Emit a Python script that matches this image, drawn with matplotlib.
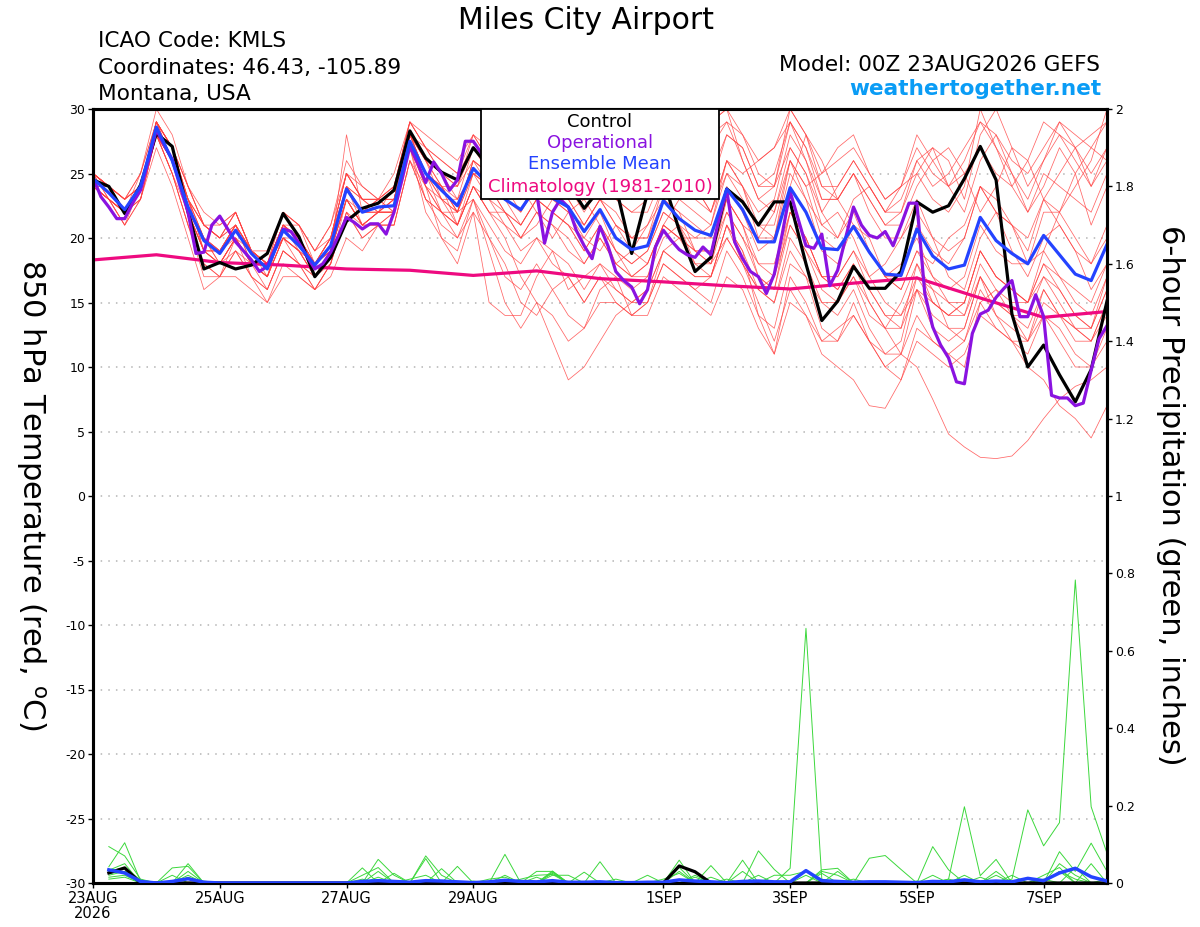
import numpy as np
import matplotlib
matplotlib.use("Agg")
import matplotlib.pyplot as plt
from matplotlib.patches import Rectangle

plt.rcParams['font.family'] = ['DejaVu Sans']
plt.rcParams['axes.unicode_minus'] = False

# --- header text ---
station = "Miles City Airport"
info_lines = ["ICAO Code: KMLS", "Coordinates: 46.43, -105.89", "Montana, USA"]
model_run = "Model: 00Z 23AUG2026 GEFS"
site_name = "weathertogether.net"
legend_items = ["Control", "Operational", "Ensemble Mean", "Climatology (1981-2010)"]

# --- time axis (hours after 00Z 23AUG2026) ---
tick_hours = [0, 48, 96, 144, 216, 264, 312, 360]
tick_labels = ["23AUG\n2026", "25AUG", "27AUG", "29AUG", "1SEP", "3SEP", "5SEP", "7SEP"]
temp_hours = np.arange(0, 385, 6)      # ensemble, 6-hourly
op_hours = np.arange(0, 385, 3)        # operational, 3-hourly
clim_hours = np.arange(0, 385, 24)     # climatology, daily
precip_hours = np.arange(6, 385, 6)    # 6-h accumulations

# --- 850 hPa temperature (C) ---
control_t = [24.5, 24.0, 21.9, 24.1, 28.1, 27.1, 22.0, 17.6, 18.1, 17.6, 17.9, 18.8, 21.9,
             20.1, 17.0, 18.5, 21.3, 22.3, 22.7, 23.7, 28.3, 26.2, 25.1, 24.5, 27.0, 25.5,
             24.8, 24.5, 25.0, 24.0, 24.2, 22.3, 23.8, 24.0, 18.8, 23.5, 24.5, 20.6, 17.4,
             18.5, 23.8, 22.8, 21.0, 22.8, 22.8, 18.0, 13.6, 15.1, 17.8, 16.1, 16.1, 17.4,
             22.8, 22.0, 22.5, 24.6, 27.1, 24.5, 14.1, 10.0, 11.7, 9.4, 7.3, 9.8, 15.1]

mean_t = [24.6, 23.5, 22.2, 24.0, 28.6, 26.0, 22.4, 19.8, 18.8, 20.6, 18.8, 17.6, 20.6,
          19.4, 17.9, 19.4, 23.8, 22.0, 22.4, 22.5, 27.5, 25.0, 23.7, 22.5, 25.4, 24.1,
          23.0, 22.2, 24.0, 23.1, 22.4, 20.5, 22.2, 20.0, 19.1, 19.4, 22.9, 21.5, 20.6,
          20.2, 23.8, 22.2, 19.7, 19.7, 23.9, 22.0, 19.2, 19.1, 20.9, 18.9, 17.2, 17.1,
          20.7, 18.6, 17.6, 17.9, 21.6, 19.8, 18.8, 18.0, 20.2, 18.7, 17.2, 16.7, 19.5]

oper_t = [24.7, 23.2, 22.4, 21.5, 21.5, 22.7, 23.7, 26.0,
          28.4, 27.2, 26.1, 24.0, 22.0, 18.8, 18.9, 21.0,
          21.7, 20.7, 19.7, 19.0, 18.3, 17.4, 17.8, 19.2,
          20.7, 20.5, 19.6, 18.6, 17.6, 18.0, 18.9, 20.2,
          21.6, 21.2, 20.7, 21.1, 21.1, 20.3, 22.0, 24.5,
          27.1, 25.8, 24.3, 25.9, 25.0, 23.7, 24.5, 27.5,
          27.5, 26.6, 25.5, 25.0, 24.5, 24.0, 24.5, 24.0,
          23.5, 19.6, 22.0, 23.0, 22.4, 20.6, 19.4, 18.4,
          20.9, 19.4, 17.4, 16.7, 16.2, 14.9, 16.0, 19.3,
          20.6, 19.8, 19.1, 18.7, 18.5, 19.3, 18.7, 21.4,
          23.7, 19.7, 18.4, 17.4, 17.0, 15.7, 17.2, 20.3,
          23.6, 21.5, 19.4, 19.2, 20.3, 16.3, 17.5, 20.0,
          22.4, 21.0, 20.2, 20.0, 20.5, 19.4, 21.0, 22.7,
          22.7, 15.7, 13.1, 11.7, 10.7, 8.85, 8.7, 12.6,
          14.1, 14.4, 15.4, 16.1, 16.7, 13.9, 13.9, 15.6,
          13.9, 7.8, 7.6, 7.6, 7.0, 7.2, 9.75, 12.2,
          13.2]

clim_t = [18.3, 18.7, 18.1, 17.9, 17.6, 17.5, 17.1, 17.45, 16.85,
          16.6, 16.3, 16.05, 16.5, 16.9, 15.35, 13.85, 14.3]

ens_members = [
    [25, 24, 22, 24, 29, 27, 23, 20, 19, 21, 19, 18, 21, 20, 18, 19, 24, 22, 23, 23, 28, 26, 24, 22, 26, 25,
     24, 22, 25, 24, 23, 21, 23, 22, 20, 20, 24, 26, 28, 29, 30, 26, 23, 24, 27, 25, 22, 24, 26, 24, 22, 23,
     26, 24, 25, 27, 29, 27, 25, 23, 26, 28, 27, 25, 27],
    [24, 23, 21, 23, 28, 25, 21, 18, 17, 19, 17, 16, 19, 18, 16, 18, 22, 20, 21, 21, 26, 23, 21, 20, 23, 20,
     18, 15, 14, 16, 17, 15, 17, 16, 15, 15, 18, 17, 16, 15, 19, 17, 14, 13, 18, 17, 13, 12, 15, 12, 10, 11,
     14, 12, 11, 10, 15, 13, 12, 11, 14, 12, 10, 10, 13],
    [25, 24, 23, 24, 29, 27, 24, 21, 20, 22, 19, 18, 22, 21, 19, 21, 26, 24, 23, 24, 29, 27, 26, 25, 28, 27,
     26, 25, 27, 26, 25, 24, 26, 24, 23, 24, 27, 26, 25, 25, 28, 27, 24, 25, 29, 27, 24, 24, 26, 24, 22, 22,
     26, 27, 24, 22, 26, 28, 25, 22, 24, 27, 25, 21, 24],
    [24, 23, 22, 24, 28, 26, 22, 19, 18, 20, 18, 17, 20, 19, 17, 19, 23, 21, 22, 22, 27, 24, 20, 19, 23, 19,
     15, 13, 15, 14, 12, 13, 16, 17, 14, 15, 19, 20, 18, 18, 22, 20, 17, 16, 21, 19, 17, 17, 19, 16, 14, 13,
     18, 15, 14, 15, 19, 17, 16, 15, 18, 16, 14, 13, 17],
    [25, 24, 22, 25, 29, 26, 23, 20, 19, 21, 19, 18, 21, 20, 18, 20, 24, 23, 22, 23, 28, 25, 23, 21, 24, 22,
     20, 17, 15, 12, 9, 10, 12, 14, 15, 16, 19, 18, 17, 17, 21, 19, 16, 15, 20, 18, 15, 14, 16, 13, 11, 11,
     16, 13, 12, 13, 17, 15, 14, 13, 16, 14, 12, 12, 15],
    [24, 23, 22, 24, 28, 25, 21, 17, 17, 19, 17, 15, 18, 17, 16, 18, 22, 21, 21, 22, 27, 24, 22, 21, 24, 22,
     21, 20, 22, 21, 20, 18, 20, 18, 17, 18, 21, 20, 19, 19, 22, 20, 18, 18, 22, 20, 17, 16, 18, 15, 13, 11,
     10, 7.5, 4.8, 3.8, 3.0, 2.9, 3.1, 4.3, 6, 7.5, 8.5, 9, 10],
    [25, 24, 23, 25, 30, 28, 24, 21, 21, 22, 19, 19, 22, 21, 19, 21, 25, 23, 23, 24, 29, 28, 27, 26, 28, 26,
     25, 24, 26, 25, 24, 22, 24, 26, 27, 25, 28, 27, 26, 28, 29, 26, 23, 22, 27, 25, 21, 20, 22, 19, 17, 16,
     19, 17, 15, 14, 17, 14, 12, 10, 9, 7, 6, 4.5, 7],
    [24, 23, 21, 23, 27, 24, 20, 16, 17, 17, 16, 15, 17, 17, 16, 17, 20, 19, 21, 21, 26, 23, 22, 20, 22, 20,
     17, 16, 18, 16, 14, 13, 15, 15, 14, 14, 17, 16, 15, 14, 17, 16, 13, 11, 15, 14, 12, 13, 14, 12, 10, 9,
     12, 11, 10, 11, 14, 13, 12, 12, 15, 14, 13, 12, 15],
    [25, 24, 22, 24, 28, 26, 22, 20, 19, 21, 18, 18, 20, 19, 18, 19, 24, 22, 22, 23, 28, 25, 24, 23, 25, 24,
     22, 21, 23, 22, 21, 19, 21, 19, 18, 19, 22, 21, 19, 18, 20, 18, 15, 12, 16, 14, 11, 10, 9, 7, 6.8, 9,
     13, 12, 11, 12, 16, 14, 13, 12, 16, 14, 13, 12, 14],
    [25, 24, 23, 24, 29, 27, 23, 21, 20, 21, 19, 18, 21, 20, 18, 20, 25, 23, 23, 23, 28, 26, 24, 24, 27, 25,
     24, 23, 25, 25, 24, 23, 25, 23, 22, 22, 25, 24, 23, 22, 26, 25, 26, 27, 29, 26, 22, 20, 23, 24, 22, 24,
     25, 23, 22, 24, 30, 27, 24, 22, 25, 24, 23, 22, 25],
    [24, 23, 22, 23, 28, 26, 23, 19, 19, 20, 18, 17, 20, 19, 17, 19, 28, 22, 22, 22, 27, 25, 22, 21, 24, 22,
     22, 20, 22, 21, 19, 18, 20, 18, 17, 17, 21, 20, 19, 18, 23, 21, 17, 16, 22, 20, 17, 17, 19, 17, 15, 14,
     17, 16, 15, 15, 19, 17, 16, 15, 17, 15, 13, 13, 16],
    [25, 24, 22, 24, 29, 27, 23, 21, 20, 21, 19, 18, 21, 20, 18, 20, 24, 23, 23, 23, 28, 26, 25, 24, 26, 25,
     25, 24, 27, 26, 26, 24, 26, 25, 25, 26, 28, 28, 27, 29, 30, 28, 25, 24, 30, 28, 24, 23, 25, 22, 20, 20,
     22, 20, 19, 20, 24, 22, 21, 20, 23, 21, 19, 18, 20],
    [24, 23, 21, 24, 28, 25, 22, 19, 18, 20, 18, 17, 20, 18, 17, 19, 23, 21, 22, 22, 27, 22, 20, 18, 22, 15,
     14, 14, 17, 19, 18, 16, 18, 16, 15, 16, 19, 18, 17, 17, 20, 18, 16, 15, 19, 17, 15, 15, 17, 15, 13, 13,
     16, 15, 14, 14, 18, 16, 15, 15, 18, 17, 15, 14, 17],
    [25, 23, 22, 24, 29, 27, 24, 22, 21, 22, 19, 18, 22, 21, 19, 20, 25, 24, 23, 25, 29, 27, 25, 24, 28, 26,
     25, 23, 24, 23, 22, 21, 23, 21, 20, 21, 24, 23, 22, 21, 25, 23, 21, 21, 26, 24, 25, 27, 28, 25, 23, 24,
     28, 26, 24, 25, 27, 25, 24, 26, 29, 28, 26, 24, 26],
    [24, 23, 22, 23, 28, 25, 21, 18, 17, 20, 17, 16, 19, 18, 17, 18, 22, 20, 21, 21, 26, 24, 23, 22, 25, 23,
     21, 19, 20, 18, 17, 15, 17, 15, 14, 15, 18, 17, 16, 17, 21, 19, 14, 11, 17, 15, 12, 12, 14, 12, 11, 12,
     17, 15, 14, 15, 19, 17, 16, 15, 19, 17, 16, 15, 18],
    [25, 24, 23, 24, 29, 26, 22, 20, 19, 21, 19, 17, 21, 20, 18, 19, 23, 22, 23, 22, 28, 25, 24, 22, 25, 24,
     23, 22, 24, 24, 23, 21, 23, 21, 20, 20, 23, 22, 21, 20, 24, 22, 19, 20, 24, 28, 26, 23, 21, 19, 17, 18,
     20, 17, 16, 17, 21, 19, 18, 18, 22, 22, 24, 26, 30],
    [24, 24, 22, 24, 28, 26, 23, 20, 18, 20, 18, 17, 20, 19, 18, 19, 23, 21, 22, 22, 27, 25, 23, 23, 25, 24,
     23, 21, 23, 22, 21, 19, 21, 19, 18, 19, 22, 21, 20, 21, 26, 24, 20, 20, 26, 24, 20, 19, 21, 19, 17, 17,
     21, 19, 18, 20, 24, 23, 21, 19, 23, 25, 27, 28, 29],
    [25, 24, 22, 24, 28, 26, 22, 19, 19, 21, 19, 18, 21, 20, 18, 19, 24, 22, 22, 23, 28, 25, 24, 22, 26, 25,
     24, 23, 26, 25, 24, 23, 25, 23, 22, 23, 26, 25, 24, 22, 26, 24, 22, 23, 28, 26, 23, 23, 25, 23, 21, 22,
     25, 27, 26, 23, 28, 30, 27, 24, 26, 29, 27, 24, 27],
    [24, 23, 22, 24, 28, 26, 22, 19, 18, 20, 18, 17, 20, 19, 17, 19, 23, 21, 22, 22, 27, 24, 22, 21, 24, 23,
     22, 21, 23, 22, 21, 20, 22, 19, 17, 18, 21, 20, 20, 20, 23, 21, 18, 17, 22, 20, 17, 16, 18, 16, 14, 14,
     16, 14, 13, 13, 17, 15, 14, 14, 17, 16, 14, 13, 16],
    [25, 24, 23, 25, 29, 27, 24, 21, 20, 22, 19, 18, 21, 20, 18, 20, 25, 23, 23, 24, 29, 27, 26, 25, 27, 26,
     25, 24, 26, 26, 25, 24, 26, 24, 23, 24, 27, 26, 24, 24, 28, 27, 24, 24, 29, 27, 23, 23, 25, 23, 21, 21,
     24, 26, 27, 25, 22, 24, 27, 26, 23, 22, 25, 27, 26],
    [24, 24, 22, 24, 29, 27, 23, 19, 19, 21, 18, 17, 21, 19, 17, 19, 24, 21, 22, 23, 28, 26, 23, 22, 26, 24,
     22, 20, 21, 23, 22, 20, 19, 21, 19, 18, 21, 23, 24, 22, 25, 24, 21, 20, 25, 23, 19, 18, 21, 20, 17, 16,
     19, 18, 20, 21, 24, 22, 19, 17, 20, 21, 19, 16, 18],
    [25, 23, 22, 24, 28, 26, 22, 20, 18, 20, 19, 18, 20, 20, 17, 19, 24, 22, 23, 22, 27, 25, 24, 21, 25, 25,
     23, 24, 22, 20, 22, 23, 21, 18, 19, 21, 23, 22, 19, 19, 23, 21, 20, 22, 26, 23, 21, 22, 20, 17, 18, 20,
     23, 20, 17, 16, 20, 22, 21, 18, 19, 22, 20, 18, 21],
    [24, 23, 22, 23, 28, 26, 22, 19, 18, 19, 18, 16, 19, 18, 16, 18, 23, 21, 21, 22, 27, 23, 22, 22, 23, 21,
     19, 18, 20, 19, 16, 17, 18, 17, 16, 17, 20, 21, 18, 17, 21, 18, 16, 17, 21, 19, 16, 15, 17, 14, 13, 15,
     18, 16, 13, 12, 15, 16, 14, 12, 14, 13, 11, 10, 12],
    [25, 24, 23, 24, 29, 26, 23, 21, 20, 22, 19, 18, 21, 21, 18, 20, 25, 23, 22, 24, 28, 27, 25, 23, 27, 26,
     26, 25, 24, 26, 27, 25, 24, 25, 24, 25, 28, 27, 26, 27, 29, 28, 26, 27, 30, 28, 25, 26, 27, 25, 23, 24,
     27, 25, 24, 26, 29, 28, 26, 25, 27, 29, 28, 27, 29],
]

# --- 6-hour precipitation (inches) ---
mean_p = [0.034, 0.026, 0.004, 0, 0.004, 0.011, 0.002, 0,
          0, 0, 0, 0, 0, 0, 0, 0,
          0.004, 0.006, 0.004, 0.002, 0.006, 0.005, 0.003, 0.001,
          0.003, 0.007, 0.004, 0.003, 0.006, 0.002, 0.002, 0.003,
          0.001, 0.001, 0.002, 0.002, 0.008, 0.005, 0.003, 0.001,
          0.004, 0.005, 0.003, 0.003, 0.032, 0.006, 0.004, 0.002,
          0.003, 0.003, 0.002, 0.001, 0.004, 0.003, 0.008, 0.003,
          0.005, 0.003, 0.012, 0.006, 0.026, 0.038, 0.016, 0.005]

control_p = {6: 0.026, 12: 0.039, 222: 0.044, 228: 0.029}

precip_members = [
    {6: 0.094, 12: 0.07, 18: 0.01, 36: 0.05, 108: 0.061, 114: 0.02, 156: 0.074, 174: 0.031,
     222: 0.059, 264: 0.038, 270: 0.658, 276: 0.01, 330: 0.02},
    {6: 0.042, 12: 0.104, 18: 0.005, 30: 0.039, 36: 0.043, 102: 0.039, 126: 0.07, 132: 0.02,
     174: 0.028, 192: 0.055, 252: 0.083, 258: 0.035, 318: 0.094, 324: 0.034, 348: 0.01,
     354: 0.189, 360: 0.096, 366: 0.156, 372: 0.783, 378: 0.197, 384: 0.077},
    {6: 0.033, 12: 0.05, 36: 0.03, 108: 0.03, 126: 0.063, 138: 0.043, 186: 0.028, 222: 0.04,
     234: 0.045, 246: 0.059, 294: 0.064, 300: 0.071, 306: 0.035, 366: 0.081, 372: 0.03,
     378: 0.103, 384: 0.03},
    {6: 0.02, 12: 0.03, 30: 0.02, 102: 0.02, 108: 0.04, 168: 0.03, 174: 0.03, 210: 0.02,
     228: 0.02, 276: 0.034, 282: 0.038, 324: 0.01, 330: 0.197, 336: 0.019, 342: 0.061,
     366: 0.05, 372: 0.02},
    {6: 0.015, 12: 0.02, 36: 0.015, 114: 0.025, 156: 0.02, 174: 0.025, 222: 0.03, 246: 0.03,
     276: 0.03, 282: 0.02, 342: 0.03, 360: 0.02, 366: 0.04, 378: 0.05},
    {6: 0.01, 12: 0.015, 102: 0.01, 132: 0.037, 162: 0.01, 168: 0.02, 174: 0.022, 216: 0.01,
     222: 0.025, 240: 0.01, 276: 0.025, 288: 0.01, 318: 0.02, 354: 0.01, 366: 0.03, 384: 0.01},
    {6: 0.03, 12: 0.04, 18: 0.008, 42: 0.005, 120: 0.01, 126: 0.02, 150: 0.01, 156: 0.015,
     174: 0.02, 180: 0.02, 234: 0.015, 258: 0.02, 264: 0.02, 270: 0.03, 336: 0.015,
     348: 0.02, 366: 0.03, 372: 0.01},
    {6: 0.025, 12: 0.03, 36: 0.02, 108: 0.015, 144: 0.005, 168: 0.015, 198: 0.01, 228: 0.015,
     252: 0.02, 270: 0.02, 282: 0.03, 312: 0.005, 324: 0.01, 342: 0.02, 360: 0.01, 372: 0.04},
]

left_ticks = list(range(-30, 31, 5))
right_ticks = [0, 0.2, 0.4, 0.6, 0.8, 1.0, 1.2, 1.4, 1.6, 1.8, 2.0]
right_labels = ["0", "0.2", "0.4", "0.6", "0.8", "1", "1.2", "1.4", "1.6", "1.8", "2"]

# colours
c_member = '#ff4040'
c_green = '#3cd83c'
c_oper = '#8a12e0'
c_mean = '#2443ff'
c_clim = '#ee0a80'
c_site = '#0a9cf5'

fig = plt.figure(figsize=(12, 9.27), dpi=100)
ax = fig.add_axes([93 / 1200, 44 / 927, 1014 / 1200, 774 / 927])
ax2 = ax.twinx()

# temperature lines
for m in ens_members:
    ax.plot(temp_hours, m, color=c_member, lw=0.55, alpha=0.8, zorder=2)
ax.plot(clim_hours, clim_t, color=c_clim, lw=2.3, zorder=4)
ax.plot(temp_hours, control_t, color='black', lw=2.3, zorder=5)
ax.plot(op_hours, oper_t, color=c_oper, lw=2.3, zorder=6)
ax.plot(temp_hours, mean_t, color=c_mean, lw=2.3, zorder=7)

# precipitation lines
for pm in precip_members:
    ax2.plot(precip_hours, [pm.get(h, 0) for h in precip_hours], color=c_green, lw=0.7, zorder=2)
ax2.plot(precip_hours, [control_p.get(h, 0) for h in precip_hours], color='black', lw=2.3, zorder=3)
ax2.plot(precip_hours, mean_p, color=c_mean, lw=2.5, zorder=4)

# axes
ax.set_xlim(0, 384)
ax.set_ylim(-30, 30)
ax.set_yticks(left_ticks)
ax.set_xticks(tick_hours, tick_labels)
for lbl in ax.get_xticklabels():
    lbl.set_linespacing(1.05)
ax.tick_params(axis='y', direction='out', length=3.5, width=1, labelsize=9, pad=2)
ax.tick_params(axis='x', direction='out', length=3.5, width=1, labelsize=10.5, pad=2)
ax.yaxis.grid(True, color='#b4b4b4', linestyle=(0, (1, 4)), lw=1.1)
ax.set_axisbelow(True)

ax2.set_ylim(0, 2)
ax2.set_yticks(right_ticks, right_labels)
ax2.tick_params(axis='y', direction='out', length=3.5, width=1, labelsize=9, pad=2)

for a in (ax, ax2):
    for s in a.spines.values():
        s.set_linewidth(2.2)

# legend box
ax2.add_patch(Rectangle((0.3823, 0.8837), 0.2354, 0.1163, transform=ax2.transAxes,
                        facecolor='white', edgecolor='black', lw=1.3, zorder=10, clip_on=False))
legend_colors = ['black', c_oper, c_mean, c_clim]
legend_y = [0.9771, 0.9492, 0.9221, 0.8932]
for txt, col, yy in zip(legend_items, legend_colors, legend_y):
    ax2.text(0.5, yy, txt, color=col, fontsize=13, ha='center', va='baseline',
             transform=ax2.transAxes, zorder=11)

# header texts
fig.text(586.5 / 1200, 1 - 29 / 927, station, fontsize=21.5, ha='center', va='baseline')
for txt, yb in zip(info_lines, [47, 74, 100]):
    fig.text(98 / 1200, 1 - yb / 927, txt, fontsize=15.6, ha='left', va='baseline')
fig.text(1100 / 1200, 1 - 70.7 / 927, model_run, fontsize=15.6, ha='right', va='baseline')
fig.text(1101 / 1200, 1 - 95 / 927, site_name, fontsize=15.6, fontweight='bold',
         color=c_site, ha='right', va='baseline')

# axis titles (both read top to bottom)
fig.text(31 / 1200, 1 - 495 / 927, r'850 hPa Temperature (red, $^{\mathrm{o}}$C)',
         rotation=-90, fontsize=22, ha='center', va='center')
fig.text(1170 / 1200, 1 - 495 / 927, '6-hour Precipitation (green, inches)',
         rotation=-90, fontsize=22, ha='center', va='center')

fig.savefig('out.png', dpi=100)
